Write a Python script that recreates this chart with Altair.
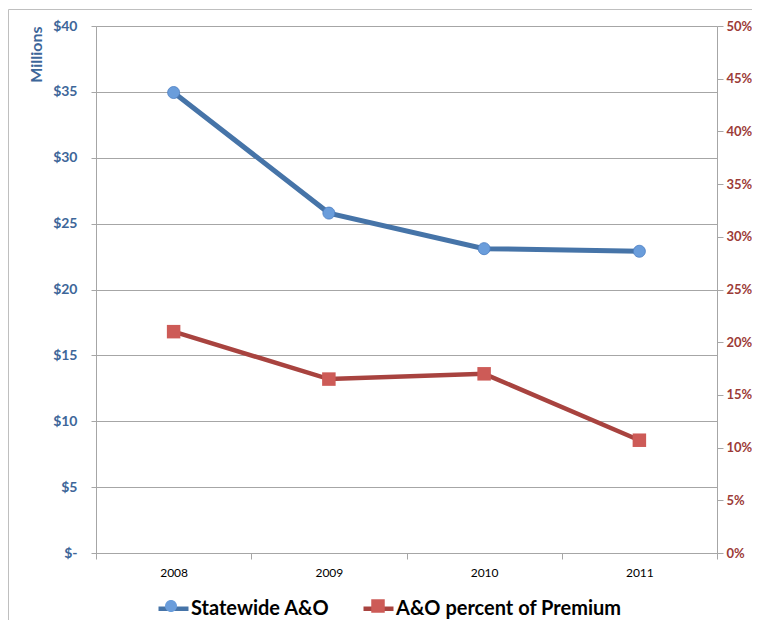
import altair as alt
import pandas as pd

years = ["2008", "2009", "2010", "2011"]
statewide = [34.95, 25.8, 23.1, 22.9]
percent = [21.0, 16.5, 17.0, 10.7]
series_names = ["Statewide A&O", "A&O percent of Premium"]
marker_names = [s + "#" for s in series_names]
left_ticks = [0, 5, 10, 15, 20, 25, 30, 35, 40]
right_ticks = [0, 5, 10, 15, 20, 25, 30, 35, 40, 45, 50]

rows = []
for y, v in zip(years, statewide):
    rows.append({"year": y, "value": v, "series": series_names[0], "marker": marker_names[0]})
for y, v in zip(years, percent):
    rows.append({"year": y, "value": v, "series": series_names[1], "marker": marker_names[1]})
df = pd.DataFrame(rows)

FONT = "Lato"
GRAY = "#A6A6A6"
BLUE_LINE = "#4674A8"
BLUE_FILL = "#6A9DDB"
RED_LINE = "#A8433F"
RED_FILL = "#CD5B57"
BLUE_TEXT = "#3D6699"
RED_TEXT = "#9C3B37"

CIRCLE = "M0.4,0A0.4,0.4 0 1,1 -0.4,0A0.4,0.4 0 1,1 0.4,0Z"
SQUARE = "M-0.45,-0.45H0.45V0.45H-0.45Z"

LEG_X = 60
LEG_Y = 565
LEG_FONT = 20

x_enc = alt.X(
    "year:O",
    title=None,
    scale=alt.Scale(paddingInner=0, paddingOuter=0),
    axis=alt.Axis(
        labelAngle=0, labelFont=FONT, labelFontSize=12, labelColor="#000000",
        labelPadding=8, tickBand="extent", tickSize=6, tickColor=GRAY,
        domainColor=GRAY, grid=False,
    ),
)

color_enc = alt.Color(
    "series:N",
    scale=alt.Scale(domain=series_names, range=[BLUE_LINE, RED_LINE]),
    legend=alt.Legend(
        title=None, orient="none", direction="horizontal", legendX=LEG_X, legendY=LEG_Y,
        symbolType="stroke", symbolSize=900, symbolStrokeWidth=4.5,
        labelFont=FONT, labelFontSize=LEG_FONT, labelFontWeight="bold", labelColor="#000000",
        labelLimit=400, labelOffset=0, columnPadding=24, padding=0, zindex=1,
    ),
)
marker_legend = alt.Legend(
    title=None, orient="none", direction="horizontal", legendX=LEG_X, legendY=LEG_Y,
    symbolSize=900, symbolStrokeWidth=0, symbolOpacity=1,
    labelExpr="''", labelFontSize=LEG_FONT,
    labelOffset=0, columnPadding=177, padding=0, zindex=2,
)
fill_enc = alt.Fill(
    "marker:N",
    scale=alt.Scale(domain=marker_names, range=[BLUE_FILL, RED_FILL]),
    legend=marker_legend,
)
shape_enc = alt.Shape(
    "marker:N",
    scale=alt.Scale(domain=marker_names, range=[CIRCLE, SQUARE]),
    legend=marker_legend,
)

y_left = alt.Y(
    "value:Q",
    title="Millions",
    scale=alt.Scale(domain=[0, 40], nice=False, zero=True),
    axis=alt.Axis(
        orient="left", values=left_ticks,
        labelExpr="datum.value == 0 ? '$-' : '$' + datum.value",
        labelFont=FONT, labelFontSize=14, labelFontWeight="bold", labelColor=BLUE_TEXT,
        labelPadding=14, tickSize=5, tickColor=GRAY, domainColor=GRAY,
        grid=True, gridColor=GRAY, gridWidth=1,
        titleFont=FONT, titleFontSize=16, titleFontWeight="bold", titleColor=BLUE_TEXT,
        titleAngle=-90, titleX=-60, titleY=0, titleAlign="right", titleBaseline="middle",
    ),
)
y_right = alt.Y(
    "value:Q",
    title=None,
    scale=alt.Scale(domain=[0, 50], nice=False, zero=True),
    axis=alt.Axis(
        orient="right", values=right_ticks,
        labelExpr="datum.value + '%'",
        labelFont=FONT, labelFontSize=13, labelFontWeight="bold", labelColor=RED_TEXT,
        labelPadding=3, tickSize=6, tickColor=GRAY, domainColor=GRAY, grid=False,
    ),
)

base = alt.Chart(df)

left = alt.layer(
    base.transform_filter(alt.datum.series == series_names[0]).mark_line(strokeWidth=5)
    .encode(x=x_enc, y=y_left, color=color_enc),
    base.transform_filter(alt.datum.series == series_names[0])
    .mark_point(filled=True, opacity=1, size=900, stroke="#4A7CC0", strokeWidth=0.8)
    .encode(x=x_enc, y=y_left, fill=fill_enc, shape=shape_enc),
)
right = alt.layer(
    base.transform_filter(alt.datum.series == series_names[1]).mark_line(strokeWidth=4.5)
    .encode(x=x_enc, y=y_right, color=color_enc),
    base.transform_filter(alt.datum.series == series_names[1])
    .mark_point(filled=True, opacity=1, size=900, strokeWidth=0)
    .encode(x=x_enc, y=y_right, fill=fill_enc, shape=shape_enc),
)

frame_top = alt.Chart(alt.Data(values=[{}])).mark_rule(color="#BFBFBF", strokeWidth=1).encode(
    x=alt.value(-87.5), x2=alt.value(700), y=alt.value(-16.5)
)
frame_left = alt.Chart(alt.Data(values=[{}])).mark_rule(color="#BFBFBF", strokeWidth=1).encode(
    x=alt.value(-87.5), y=alt.value(-16.5), y2=alt.value(640)
)

chart = (
    alt.layer(frame_top, frame_left, left, right)
    .resolve_scale(y="independent")
    .properties(
        width=621, height=527,
        autosize=alt.AutoSizeParams(type="none"),
        padding={"left": 88, "top": 18, "right": 35, "bottom": 67},
    )
    .configure_view(stroke=None)
    .configure(background="white")
)

chart.save("out.html", embed_options={"renderer": "svg", "actions": False})
